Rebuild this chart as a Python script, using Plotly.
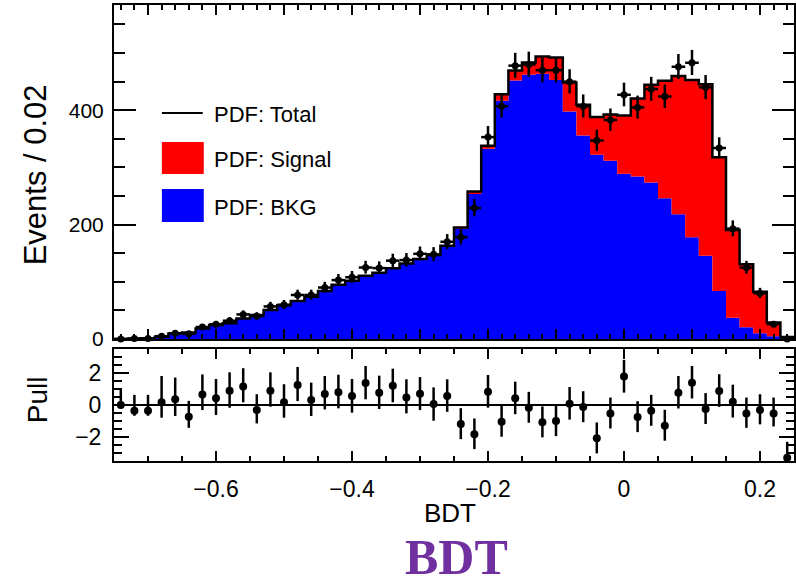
import plotly.graph_objects as go

# Binning of the BDT output: 50 bins of width 0.02 between -0.75 and 0.25
x_min, x_max, bin_width = -0.75, 0.25, 0.02
n_bins = 50
bin_edges = [round(x_min + i * bin_width, 3) for i in range(n_bins + 1)]
bin_centers = [round(x_min + (i + 0.5) * bin_width, 3) for i in range(n_bins)]

# Fitted background component (events / bin)
bkg_counts = [0.1, 0.5, 1.4, 4.0, 9.5, 11.3, 18.4, 24.4, 27.4, 35.8,
              41.8, 50.5, 58.8, 66.3, 73.8, 83.7, 94.6, 101.6, 110.0, 115.5,
              123.0, 131.2, 139.0, 146.0, 161.5, 193.0, 253.5, 332.5, 416.5, 452.0,
              462.0, 463.8, 453.0, 397.8, 355.8, 322.0, 311.5, 288.8, 284.0, 273.6,
              246.0, 218.0, 178.0, 145.8, 84.0, 37.3, 20.4, 10.0, 5.0, 0.5]

# Fitted signal component (events / bin), stacked on the background
sig_counts = [0.0, 0.0, 0.0, 0.0, 0.0, 0.2, 0.1, 0.1, 0.1, 0.2,
              0.2, 0.2, 0.2, 0.2, 0.2, 0.3, 0.4, 0.4, 0.5, 0.5,
              0.7, 0.8, 1.0, 1.0, 1.5, 2.0, 4.5, 5.3, 11.5, 17.6,
              21.6, 30.2, 39.0, 50.8, 53.7, 66.0, 81.1, 102.2, 136.6, 170.9,
              205.5, 241.7, 275.0, 299.8, 234.0, 153.5, 110.3, 72.8, 24.0, 3.0]

# Observed events per bin
data_counts = [0, 1, 1, 5, 10, 9, 21, 26, 32, 43,
               40, 57, 60, 77, 77, 90, 103, 108, 125, 124,
               137, 138, 149, 148, 170, 178, 229, 353, 407, 478,
               480, 470, 470, 450, 407, 347, 383, 427, 405, 437,
               424, 476, 483, 440, 334, 193, 125, 80, 26, 0]

# Pull per bin with its asymmetric error bars
pull_values = [0.0, -0.36, -0.36, 0.17, 0.36, -0.74, 0.67, 0.42, 0.90, 1.16,
               -0.32, 0.90, 0.17, 1.26, 0.32, 0.69, 0.80, 0.57, 1.39, 0.78,
               1.22, 0.48, 0.71, 0.06, 0.57, -1.20, -1.85, 0.84, -1.05, 0.42,
               -0.17, -1.09, -1.01, 0.08, -0.13, -2.10, -0.53, 1.79, -0.76, -0.36,
               -1.30, 0.78, 1.41, -0.25, 0.88, 0.21, -0.53, -0.32, -0.53, -3.32]
pull_err_hi = [1.05, 1.0, 1.0, 1.66, 1.37, 1.0, 1.26, 1.22, 1.16, 1.16,
               1.0, 1.16, 1.14, 1.14, 1.09, 1.14, 1.11, 1.07, 1.07, 1.07,
               1.07, 1.14, 1.05, 1.05, 1.05, 1.0, 1.0, 1.05, 1.0, 1.05,
               1.0, 1.0, 1.0, 1.05, 1.0, 1.0, 1.0, 1.05, 1.0, 1.0,
               1.0, 1.05, 1.05, 1.0, 1.06, 1.07, 1.0, 1.0, 1.0, 1.0]
pull_err_lo = [0.0, 0.32, 0.32, 0.97, 1.05, 0.70, 0.99, 1.05, 1.07, 0.99,
               0.84, 1.01, 0.97, 1.01, 1.01, 0.97, 1.01, 1.05, 1.03, 1.03,
               1.05, 1.01, 1.03, 1.05, 1.0, 0.95, 0.93, 1.01, 0.95, 1.0,
               0.95, 0.95, 0.95, 1.0, 0.95, 0.95, 0.95, 1.01, 0.95, 0.95,
               0.95, 1.0, 1.0, 0.95, 1.0, 1.0, 0.91, 0.90, 0.82, 0.0]

total_counts = [b + s for b, s in zip(bkg_counts, sig_counts)]


def step(values):
    # repeat the last bin so an "hv" line closes on the upper edge
    return list(values) + [values[-1]]


# Approximate Poisson (68%) intervals for the observed counts
def poisson_err(n):
    if n == 0:
        return 1.15, 0.0
    r = (n + 0.25) ** 0.5
    return r + 0.5, r - 0.5


data_hi = [poisson_err(n)[0] for n in data_counts]
data_lo = [poisson_err(n)[1] for n in data_counts]

BLUE = "#0000ff"
RED = "#ff0000"
FONT = "Liberation Sans, Arial, Helvetica, sans-serif"

fig = go.Figure()

# background: blue filled step histogram
fig.add_trace(go.Scatter(
    x=bin_edges, y=step(bkg_counts), mode="lines", line=dict(shape="hv", width=0, color=BLUE),
    fill="tozeroy", fillcolor=BLUE, xaxis="x", yaxis="y", showlegend=False, hoverinfo="skip"))
# signal: red band between background and total
fig.add_trace(go.Scatter(
    x=bin_edges, y=step(total_counts), mode="lines", line=dict(shape="hv", width=0, color=RED),
    fill="tonexty", fillcolor=RED, xaxis="x", yaxis="y", showlegend=False, hoverinfo="skip"))
# total PDF outline
fig.add_trace(go.Scatter(
    x=bin_edges, y=step(total_counts), mode="lines", line=dict(shape="hv", width=2.5, color="black"),
    xaxis="x", yaxis="y", showlegend=False))
# data points
fig.add_trace(go.Scatter(
    x=bin_centers, y=data_counts, mode="markers",
    marker=dict(color="black", size=7),
    error_y=dict(type="data", symmetric=False, array=data_hi, arrayminus=data_lo,
                 color="black", thickness=2.5, width=0),
    error_x=dict(type="constant", value=bin_width / 2, color="black", thickness=2.5, width=0),
    cliponaxis=False, xaxis="x", yaxis="y", showlegend=False))

# pull panel
fig.add_trace(go.Scatter(
    x=bin_centers, y=pull_values, mode="markers",
    marker=dict(color="black", size=8),
    error_y=dict(type="data", symmetric=False, array=pull_err_hi, arrayminus=pull_err_lo,
                 color="black", thickness=2.5, width=0),
    cliponaxis=False, xaxis="x2", yaxis="y2", showlegend=False))

axis_common = dict(showline=True, linecolor="black", linewidth=2, mirror="allticks",
                   ticks="inside", tickcolor="black", tickwidth=1.5, showgrid=False,
                   zeroline=False)


def tick_font(size):
    return dict(family=FONT, size=size, color="black")


fig.update_layout(
    width=796, height=587,
    margin=dict(l=114, r=0, t=5, b=126),
    paper_bgcolor="white", plot_bgcolor="white",
    font=dict(family=FONT, color="black"),
    xaxis=dict(domain=[0, 1], anchor="y", range=[x_min, x_max], showticklabels=False,
               tick0=0, dtick=0.1, ticklen=10, tickfont=tick_font(21),
               minor=dict(tick0=0, dtick=0.02, ticklen=5, ticks="inside", tickcolor="black", tickwidth=1.5),
               **axis_common),
    yaxis=dict(domain=[0.2675, 1], anchor="x", range=[0, 584], tick0=0, dtick=200, ticklen=22,
               ticklabelstandoff=4, tickfont=tick_font(21),
               minor=dict(tick0=0, dtick=50, ticklen=11, ticks="inside", tickcolor="black", tickwidth=1.5),
               **axis_common),
    xaxis2=dict(domain=[0, 1], anchor="y2", range=[x_min, x_max], matches="x",
                tick0=0, dtick=0.2, ticklen=10, ticklabelstandoff=6, tickfont=tick_font(23),
                minor=dict(tick0=0, dtick=0.05, ticklen=5, ticks="inside", tickcolor="black", tickwidth=1.5),
                **axis_common),
    yaxis2=dict(domain=[0, 0.2456], anchor="x2", range=[-3.53, 3.53], tick0=0, dtick=2, ticklen=15,
                ticklabelstandoff=6, tickfont=tick_font(23),
                minor=dict(tick0=0, dtick=0.5, ticklen=8, ticks="inside", tickcolor="black", tickwidth=1.5),
                **axis_common),
)
fig.update_yaxes(zeroline=True, zerolinecolor="black", zerolinewidth=1.5, selector=dict(anchor="x2"))

# legend drawn as shapes + labels in the upper left of the top panel
fig.add_shape(type="line", xref="paper", yref="paper", x0=0.0704, x1=0.1305, y0=0.7632, y1=0.7632,
              line=dict(color="black", width=2))
fig.add_shape(type="rect", xref="paper", yref="paper", x0=0.0704, x1=0.132, y0=0.6294, y1=0.6996,
              fillcolor=RED, line=dict(width=0))
fig.add_shape(type="rect", xref="paper", yref="paper", x0=0.0704, x1=0.132, y0=0.5241, y1=0.5965,
              fillcolor=BLUE, line=dict(width=0))
for label, ypos in [("PDF: Total", 0.7588), ("PDF: Signal", 0.6601), ("PDF: BKG", 0.557)]:
    fig.add_annotation(text=label, xref="paper", yref="paper", x=0.1437, y=ypos,
                       xanchor="left", yanchor="middle", showarrow=False,
                       font=dict(family=FONT, size=22, color="black"))

# axis titles
fig.add_annotation(text="Events / 0.02", xref="paper", yref="paper", x=-0.1158, y=0.627,
                   textangle=-90, showarrow=False, xanchor="center", yanchor="middle",
                   font=dict(family=FONT, size=31, color="black"))
fig.add_annotation(text="Pull", xref="paper", yref="paper", x=-0.1114, y=0.1338,
                   textangle=-90, showarrow=False, xanchor="center", yanchor="middle",
                   font=dict(family=FONT, size=28, color="black"))
fig.add_annotation(text="BDT", xref="paper", yref="paper", x=0.494, y=-0.114,
                   showarrow=False, xanchor="center", yanchor="middle", borderpad=0,
                   font=dict(family=FONT, size=26, color="black"))

# chart title below the axes
fig.add_annotation(text="<b>BDT</b>", xref="paper", yref="paper", x=0.503, y=-0.2105,
                   showarrow=False, xanchor="center", yanchor="middle", borderpad=0,
                   font=dict(family="Liberation Serif, Times New Roman, serif", size=50, color="#7030a0"))

fig.write_html("out.html")
